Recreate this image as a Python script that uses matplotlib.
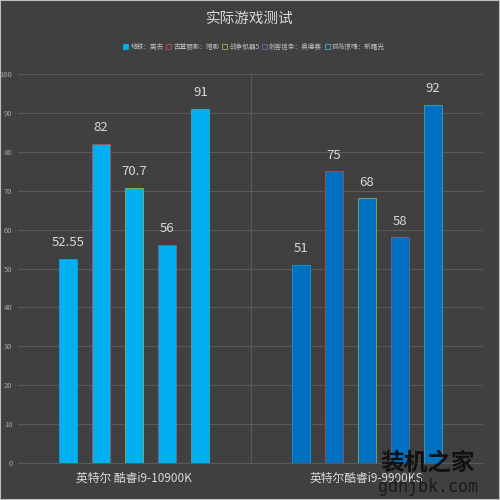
import numpy as np
import matplotlib
matplotlib.use('Agg')
import matplotlib.pyplot as plt
from matplotlib.patches import Patch

plt.rcParams['font.family'] = ['Noto Sans CJK SC', 'DejaVu Sans']

title = '实际游戏测试'
cpus = ['英特尔 酷睿i9-10900K', '英特尔酷睿i9-9900KS']
games = ['地铁：离去', '古墓丽影：暗影', '战争机器5', '刺客信条：奥德赛', '孤岛惊魂：新曙光']
# rows = games, cols = cpus
scores = [[52.55, 51], [82, 75], [70.7, 68], [56, 58], [91, 92]]
labels = [['52.55', '51'], ['82', '75'], ['70.7', '68'], ['56', '58'], ['91', '92']]

bg = '#404040'
cpu_fill = ['#00b0f0', '#0070c0']
edge = ['#00b0f0', '#c0504d', '#9bbb59', '#8064a2', '#4bacc6']
txt = '#d9d9d9'
grid = '#595959'

fig = plt.figure(figsize=(5, 5), dpi=100, facecolor=bg)
fig.patches.append(plt.Rectangle((0, 0), 1, 1, transform=fig.transFigure,
                                 fill=False, edgecolor='#bfbfbf', lw=1.5))
ax = fig.add_axes([0.036, 0.074, 0.93, 0.778])
ax.set_facecolor(bg)

x = np.arange(len(cpus))
step = 0.142
w = 0.077
for i, g in enumerate(games):
    pos = x + (i - 2) * step
    bars = ax.bar(pos, scores[i], width=w, color=cpu_fill,
                  edgecolor=edge[i], linewidth=0.5, zorder=3)
    for b, lab in zip(bars, labels[i]):
        ax.annotate(lab, (b.get_x() + b.get_width() / 2, b.get_height()),
                    xytext=(0, 7), textcoords='offset points', ha='center',
                    va='bottom', fontsize=9.5, color=txt)

ax.set_ylim(0, 100)
ax.set_xlim(-0.5, 1.5)
ax.set_yticks(range(0, 101, 10))
ax.yaxis.grid(True, color=grid, lw=0.8, zorder=0)
for xv in [0.5, 1.5]:
    ax.axvline(xv, color=grid, lw=0.8, zorder=0)
for s in ax.spines.values():
    s.set_visible(False)
ax.spines['bottom'].set_visible(True)
ax.spines['bottom'].set_color(grid)
ax.tick_params(axis='y', length=0, labelsize=5.5, labelcolor='#a6a6a6', pad=4)
ax.tick_params(axis='x', length=0, labelsize=8.5, labelcolor=txt, pad=6)
ax.set_xticks(x)
ax.set_xticklabels(cpus)

fig.text(0.5, 0.962, title, ha='center', va='center', fontsize=10.5, color=txt)

handles = [Patch(facecolor=cpu_fill[0] if i == 0 else bg, edgecolor=edge[i], lw=0.6)
           for i in range(len(games))]
fig.legend(handles, games, loc='center', bbox_to_anchor=(0.508, 0.906), ncol=5,
           frameon=False, fontsize=4.8, labelcolor='#bfbfbf', handlelength=0.8,
           handleheight=0.8, handletextpad=0.3, columnspacing=0.35)

# watermark
fig.text(0.856, 0.074, '装机之家', ha='center', va='center', fontsize=17,
         fontweight='bold', color='#111111', zorder=10)
fig.text(0.856, 0.026, 'gdnjbk.com', ha='center', va='center', fontsize=12,
         family='DejaVu Sans Mono', color='#1a1a1a', zorder=10)

fig.savefig('out.png', dpi=100, facecolor=bg)
